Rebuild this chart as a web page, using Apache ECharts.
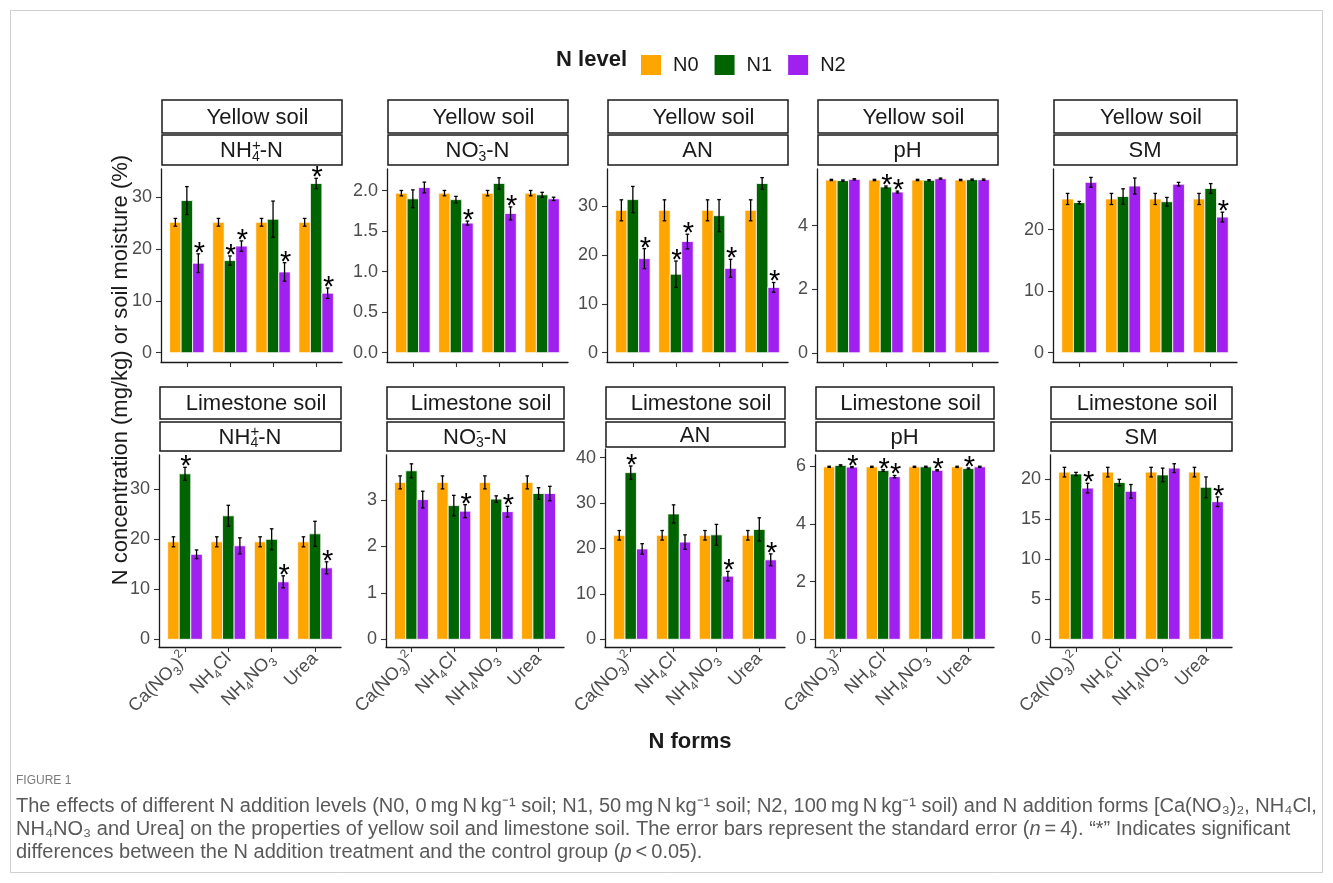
<!DOCTYPE html>
<html>
<head>
<meta charset="utf-8">
<script src="https://cdn.jsdelivr.net/npm/echarts@6/dist/echarts.min.js"></script>
<style>
html, body { margin: 0; padding: 0; background: #fff; }
#chart { width: 1333px; height: 883px; }
</style>
</head>
<body>
<div id="chart"></div>
<script>
// ---- data -------------------------------------------------------------
const forms = ['Ca(NO3)2', 'NH4Cl', 'NH4NO3', 'Urea'];
const levels = ['N0', 'N1', 'N2'];
const levelColors = ['#FFA500', '#006400', '#A020F0'];
const soils = ['Yellow soil', 'Limestone soil'];

// each array: rows = N0, N1, N2; columns = forms
const ysNH4Mean = [[25.2, 25.2, 25.2, 25.2], [29.4, 17.8, 25.8, 32.7], [17.3, 20.6, 15.6, 11.5]];
const ysNH4Se   = [[0.75, 0.75, 0.75, 0.75], [2.7, 0.9, 3.5, 1.0], [1.8, 1.0, 1.8, 1.0]];
const ysNH4Sig  = [[0, 0, 0, 0], [0, 1, 0, 1], [1, 1, 1, 1]];
const ysNH4Ticks = ['0', '10', '20', '30'];

const ysNO3Mean = [[1.97, 1.97, 1.97, 1.97], [1.90, 1.89, 2.09, 1.95], [2.04, 1.60, 1.72, 1.90]];
const ysNO3Se   = [[0.033, 0.033, 0.033, 0.033], [0.11, 0.04, 0.07, 0.03], [0.066, 0.025, 0.08, 0.02]];
const ysNO3Sig  = [[0, 0, 0, 0], [0, 0, 0, 0], [0, 1, 1, 0]];
const ysNO3Ticks = ['0.0', '0.5', '1.0', '1.5', '2.0'];

const ysANMean = [[29.2, 29.2, 29.2, 29.2], [31.4, 16.1, 28.1, 34.7], [19.3, 22.8, 17.3, 13.4]];
const ysANSe   = [[2.15, 2.15, 2.15, 2.15], [2.7, 2.7, 3.3, 1.2], [2.05, 1.5, 1.85, 1.0]];
const ysANSig  = [[0, 0, 0, 0], [0, 1, 0, 0], [1, 1, 1, 1]];
const ysANTicks = ['0', '10', '20', '30'];

const ysPHMean = [[5.44, 5.44, 5.44, 5.44], [5.42, 5.22, 5.43, 5.45], [5.46, 5.06, 5.48, 5.45]];
const ysPHSe   = [[0.02, 0.02, 0.02, 0.02], [0.02, 0.03, 0.02, 0.02], [0.02, 0.03, 0.02, 0.02]];
const ysPHSig  = [[0, 0, 0, 0], [0, 1, 0, 0], [0, 1, 0, 0]];
const ysPHTicks = ['0', '2', '4'];

const ysSMMean = [[25.0, 25.0, 25.0, 25.0], [24.4, 25.4, 24.55, 26.7], [27.7, 27.1, 27.4, 22.05]];
const ysSMSe   = [[0.9, 0.9, 0.9, 0.9], [0.2, 1.25, 0.7, 0.8], [0.8, 1.3, 0.3, 0.8]];
const ysSMSig  = [[0, 0, 0, 0], [0, 0, 0, 0], [0, 0, 0, 1]];
const ysSMTicks = ['0', '10', '20'];

const lsNH4Mean = [[19.5, 19.5, 19.5, 19.5], [33.1, 24.7, 20.0, 21.1], [17.0, 18.7, 11.5, 14.3]];
const lsNH4Se   = [[1.0, 1.0, 1.0, 1.0], [1.3, 2.1, 2.1, 2.5], [0.87, 1.6, 1.2, 1.2]];
const lsNH4Sig  = [[0, 0, 0, 0], [1, 0, 0, 0], [0, 0, 1, 1]];
const lsNH4Ticks = ['0', '10', '20', '30'];

const lsNO3Mean = [[3.38, 3.38, 3.38, 3.38], [3.63, 2.88, 3.02, 3.14], [3.01, 2.76, 2.75, 3.14]];
const lsNO3Se   = [[0.14, 0.14, 0.14, 0.14], [0.15, 0.22, 0.07, 0.125], [0.18, 0.14, 0.115, 0.155]];
const lsNO3Sig  = [[0, 0, 0, 0], [0, 0, 0, 0], [0, 1, 1, 0]];
const lsNO3Ticks = ['0', '1', '2', '3'];

const lsANMean = [[22.9, 22.9, 22.9, 22.9], [36.7, 27.6, 23.0, 24.2], [19.9, 21.4, 13.9, 17.5]];
const lsANSe   = [[1.05, 1.05, 1.05, 1.05], [1.45, 2.0, 2.3, 2.55], [1.15, 1.6, 1.05, 1.3]];
const lsANSig  = [[0, 0, 0, 0], [1, 0, 0, 0], [0, 0, 1, 1]];
const lsANTicks = ['0', '10', '20', '30', '40'];

const lsPHMean = [[5.98, 5.98, 5.98, 5.98], [6.03, 5.85, 5.98, 5.92], [5.97, 5.64, 5.86, 5.98]];
const lsPHSe   = [[0.02, 0.02, 0.02, 0.02], [0.02, 0.03, 0.02, 0.02], [0.02, 0.04, 0.02, 0.02]];
const lsPHSig  = [[0, 0, 0, 0], [0, 1, 0, 1], [1, 1, 1, 0]];
const lsPHTicks = ['0', '2', '4', '6'];

const lsSMMean = [[20.9, 20.9, 20.9, 20.9], [20.67, 19.6, 20.55, 19.0], [18.9, 18.5, 21.4, 17.2]];
const lsSMSe   = [[0.6, 0.6, 0.6, 0.6], [0.2, 0.4, 0.85, 1.3], [0.6, 0.85, 0.55, 0.6]];
const lsSMSig  = [[0, 0, 0, 0], [0, 0, 0, 0], [1, 0, 0, 1]];
const lsSMTicks = ['0', '5', '10', '15', '20'];

// ---- panel layout -----------------------------------------------------
const FONT = '"Liberation Sans", Arial, Helvetica, sans-serif';
const INK = '#1a1a1a';
const TICK_GREY = '#4D4D4D';

const rows = [
  { s1Top: 100, s1H: 33, s2Top: 135, s2H: 30, showForms: false },
  { s1Top: 387, s1H: 32, s2Top: 422, s2H: 29, showForms: true }
];

const panels = [
  { soil: 0, varName: 'NH4', mean: ysNH4Mean, se: ysNH4Se, sig: ysNH4Sig, ticks: ysNH4Ticks, left: 161, right: 342, top: 169, bottom: 362, yMin: -1.8, yMax: 35.5 },
  { soil: 0, varName: 'NO3', mean: ysNO3Mean, se: ysNO3Se, sig: ysNO3Sig, ticks: ysNO3Ticks, left: 387, right: 568, top: 169, bottom: 362, yMin: -0.115, yMax: 2.268 },
  { soil: 0, varName: 'AN',  mean: ysANMean,  se: ysANSe,  sig: ysANSig,  ticks: ysANTicks,  left: 607, right: 788, top: 169, bottom: 362, yMin: -1.9, yMax: 37.67 },
  { soil: 0, varName: 'pH',  mean: ysPHMean,  se: ysPHSe,  sig: ysPHSig,  ticks: ysPHTicks,  left: 817, right: 998, top: 169, bottom: 362, yMin: -0.29, yMax: 5.786 },
  { soil: 0, varName: 'SM',  mean: ysSMMean,  se: ysSMSe,  sig: ysSMSig,  ticks: ysSMTicks,  left: 1053, right: 1237, top: 169, bottom: 362, yMin: -1.51, yMax: 29.87 },
  { soil: 1, varName: 'NH4', mean: lsNH4Mean, se: lsNH4Se, sig: lsNH4Sig, ticks: lsNH4Ticks, left: 159, right: 341, top: 455, bottom: 647, yMin: -1.54, yMax: 36.86 },
  { soil: 1, varName: 'NO3', mean: lsNO3Mean, se: lsNO3Se, sig: lsNO3Sig, ticks: lsNO3Ticks, left: 386, right: 564, top: 455, bottom: 647, yMin: -0.166, yMax: 3.97 },
  { soil: 1, varName: 'AN',  mean: lsANMean,  se: lsANSe,  sig: lsANSig,  ticks: lsANTicks,  left: 605, right: 785, top: 449, bottom: 647, yMin: -1.7, yMax: 41.9, s2H: 25 },
  { soil: 1, varName: 'pH',  mean: lsPHMean,  se: lsPHSe,  sig: lsPHSig,  ticks: lsPHTicks,  left: 815, right: 994, top: 455, bottom: 647, yMin: -0.267, yMax: 6.39 },
  { soil: 1, varName: 'SM',  mean: lsSMMean,  se: lsSMSe,  sig: lsSMSig,  ticks: lsSMTicks,  left: 1050, right: 1232, top: 455, bottom: 647, yMin: -0.96, yMax: 23.04 }
];

// facet strip titles, with stacked sub/superscripts
const varTitles = {
  NH4: '{n|NH}{p|+}{s|4}{n|-N}',
  NO3: '{n|NO}{p|-}{s|3}{n|-N}',
  AN: '{n|AN}',
  pH: '{n|pH}',
  SM: '{n|SM}'
};
const stripRich = {
  n: { fontSize: 22, fontFamily: FONT, color: INK, lineHeight: 26, align: 'left' },
  s: { fontSize: 14, fontFamily: FONT, color: INK, lineHeight: 14, verticalAlign: 'bottom', align: 'left' },
  p: { fontSize: 15, fontFamily: FONT, color: INK, lineHeight: 12, verticalAlign: 'top', width: 0, align: 'left' }
};

// x tick labels: digits become subscripts, a digit after ")" is raised
function richForm(name) {
  let out = '';
  for (let i = 0; i < name.length; i++) {
    const c = name[i];
    if (/[0-9]/.test(c)) out += (name[i - 1] === ')' ? '{p|' : '{s|') + c + '}';
    else {
      let j = i;
      while (j < name.length && !/[0-9]/.test(name[j])) j++;
      out += '{n|' + name.slice(i, j) + '}';
      i = j - 1;
    }
  }
  return out;
}
const formRich = {
  n: { fontSize: 18, fontFamily: FONT, color: TICK_GREY, lineHeight: 24 },
  s: { fontSize: 12, fontFamily: FONT, color: TICK_GREY, lineHeight: 13, verticalAlign: 'bottom' },
  p: { fontSize: 12, fontFamily: FONT, color: TICK_GREY, lineHeight: 13, verticalAlign: 'top' }
};

const offsets = [-0.8 / 3, 0, 0.8 / 3];
const barW = 0.8 / 3;

const grids = [], xAxes = [], yAxes = [], series = [], graphics = [];

panels.forEach((p, k) => {
  const row = rows[p.soil];
  const tickVals = p.ticks.map(Number);
  grids.push({ left: p.left, top: p.top, width: p.right - p.left, height: p.bottom - p.top });
  xAxes.push({
    gridIndex: k, type: 'value', min: -0.6, max: 3.6,
    axisLine: { show: true, onZero: false, lineStyle: { color: INK, width: 1.3 } },
    axisTick: { show: true, customValues: [0, 1, 2, 3], length: 5, lineStyle: { color: '#333', width: 1.1 } },
    axisLabel: {
      show: row.showForms,
      customValues: [0, 1, 2, 3], rotate: 45, margin: 9, interval: 0,
      formatter: v => richForm(forms[Math.round(v)]), rich: formRich
    },
    splitLine: { show: false }
  });
  yAxes.push({
    gridIndex: k, type: 'value', min: p.yMin, max: p.yMax,
    axisLine: { show: true, onZero: false, lineStyle: { color: INK, width: 1.3 } },
    axisTick: { show: true, customValues: tickVals, length: 5, lineStyle: { color: '#333', width: 1.1 } },
    axisLabel: {
      customValues: tickVals, margin: 9, fontSize: 18, fontFamily: FONT, color: TICK_GREY,
      formatter: v => {
        const i = tickVals.findIndex(t => Math.abs(t - v) < 1e-9);
        return i >= 0 ? p.ticks[i] : '';
      }
    },
    splitLine: { show: false }
  });

  levels.forEach((lv, li) => {
    const data = forms.map((f, fi) => [fi, p.mean[li][fi], p.se[li][fi], p.sig[li][fi]]);
    series.push({
      type: 'custom', name: lv, xAxisIndex: k, yAxisIndex: k,
      itemStyle: { color: levelColors[li] },
      encode: { x: 0, y: 1 },
      data: data,
      renderItem: (params, api) => {
        const xc = api.value(0) + offsets[li];
        const m = api.value(1), s = api.value(2), sig = api.value(3);
        const tl = api.coord([xc - barW / 2, m]);
        const br = api.coord([xc + barW / 2, 0]);
        const hi = api.coord([xc, m + s]);
        const lo = api.coord([xc, m - s]);
        const cap = 1.8;
        const children = [
          { type: 'rect', shape: { x: tl[0], y: tl[1], width: br[0] - tl[0], height: br[1] - tl[1] },
            style: { fill: levelColors[li], stroke: '#fff', lineWidth: 0.8 } },
          { type: 'line', shape: { x1: hi[0], y1: hi[1], x2: lo[0], y2: lo[1] }, style: { stroke: '#000', lineWidth: 1.3 } },
          { type: 'line', shape: { x1: hi[0] - cap, y1: hi[1], x2: hi[0] + cap, y2: hi[1] }, style: { stroke: '#000', lineWidth: 1.3 } },
          { type: 'line', shape: { x1: lo[0] - cap, y1: lo[1], x2: lo[0] + cap, y2: lo[1] }, style: { stroke: '#000', lineWidth: 1.3 } }
        ];
        if (sig) {
          children.push({
            type: 'text', x: hi[0] + 1, y: hi[1],
            style: { text: '*', fontSize: 29, fontFamily: FONT, fill: '#000',
                     align: 'center', verticalAlign: 'middle', textAlign: 'center', textVerticalAlign: 'middle' }
          });
        }
        return { type: 'group', children: children };
      }
    });
  });

  // facet strips
  const s2H = p.s2H || row.s2H;
  graphics.push({ type: 'rect', shape: { x: p.left + 1, y: row.s1Top, width: p.right - p.left - 1, height: row.s1H },
    style: { fill: '#fff', stroke: INK, lineWidth: 1.5 }, z: 10 });
  graphics.push({ type: 'rect', shape: { x: p.left + 1, y: row.s2Top, width: p.right - p.left - 1, height: s2H },
    style: { fill: '#fff', stroke: INK, lineWidth: 1.5 }, z: 10 });
  graphics.push({ type: 'text', x: (p.left + p.right) / 2 + 6, y: row.s1Top + row.s1H / 2 + 1, z: 11,
    style: { text: soils[p.soil], fontSize: 22, fontFamily: FONT, fill: INK,
             align: 'center', verticalAlign: 'middle', textAlign: 'center', textVerticalAlign: 'middle' } });
  graphics.push({ type: 'text', x: (p.left + p.right) / 2, y: row.s2Top + s2H / 2 + 1, z: 11,
    style: { text: varTitles[p.varName], rich: stripRich, fontSize: 22, fontFamily: FONT, fill: INK,
             align: 'center', verticalAlign: 'middle', textAlign: 'center', textVerticalAlign: 'middle' } });
});

// shared titles, legend heading, caption, frame
graphics.push({ type: 'rect', shape: { x: 10.5, y: 10.5, width: 1312, height: 862 },
  style: { fill: 'none', stroke: '#cfcfcf', lineWidth: 1 }, z: 0 });
graphics.push({ type: 'text', x: 627, y: 60,
  style: { text: 'N level', fontSize: 22, fontWeight: 'bold', fontFamily: FONT, fill: INK,
           align: 'right', verticalAlign: 'middle', textAlign: 'right', textVerticalAlign: 'middle' } });
graphics.push({ type: 'text', x: 121, y: 370, rotation: Math.PI / 2,
  style: { text: 'N concentration (mg/kg) or soil moisture (%)', fontSize: 22, fontFamily: FONT, fill: INK,
           align: 'center', verticalAlign: 'middle', textAlign: 'center', textVerticalAlign: 'middle' } });
graphics.push({ type: 'text', x: 690, y: 742,
  style: { text: 'N forms', fontSize: 22, fontWeight: 'bold', fontFamily: FONT, fill: INK,
           align: 'center', verticalAlign: 'middle', textAlign: 'center', textVerticalAlign: 'middle' } });

const CAP_GREY = '#595959';
const capRich = { i: { fontStyle: 'italic', fontSize: 20, fontFamily: FONT, fill: CAP_GREY, color: CAP_GREY } };
graphics.push({ type: 'text', x: 16, y: 781,
  style: { text: 'FIGURE 1', fontSize: 12, fontFamily: FONT, fill: '#7a7a7a',
           align: 'left', verticalAlign: 'middle', textAlign: 'left', textVerticalAlign: 'middle' } });
const captionLines = [
  'The effects of different N addition levels (N0, 0\u2009mg\u2009N\u2009kg\u207B\u00B9 soil; N1, 50\u2009mg\u2009N\u2009kg\u207B\u00B9 soil; N2, 100\u2009mg\u2009N\u2009kg\u207B\u00B9 soil) and N addition forms [Ca(NO\u2083)\u2082, NH\u2084Cl,',
  'NH\u2084NO\u2083 and Urea] on the properties of yellow soil and limestone soil. The error bars represent the standard error ({i|n}\u2009=\u20094). \u201C*\u201D Indicates significant',
  'differences between the N addition treatment and the control group ({i|p}\u2009<\u20090.05).'
];
captionLines.forEach((t, i) => {
  graphics.push({ type: 'text', x: 16, y: 806 + i * 23,
    style: { text: t, rich: capRich, fontSize: 20, fontFamily: FONT, fill: CAP_GREY,
             align: 'left', verticalAlign: 'middle', textAlign: 'left', textVerticalAlign: 'middle' } });
});

const chart = echarts.init(document.getElementById('chart'));
chart.setOption({
  backgroundColor: '#fff',
  animation: false,
  legend: {
    left: 636, top: 50, itemWidth: 20, itemHeight: 20, itemGap: 16, icon: 'rect',
    data: levels,
    textStyle: { fontSize: 20, fontFamily: FONT, color: INK, padding: [0, 0, 0, 7] }
  },
  grid: grids,
  xAxis: xAxes,
  yAxis: yAxes,
  series: series,
  graphic: { elements: graphics }
});
</script>
</body>
</html>
